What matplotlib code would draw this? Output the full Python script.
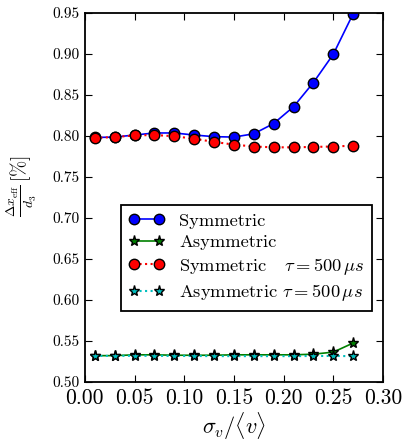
import matplotlib
matplotlib.use('Agg')
import matplotlib.pyplot as plt

plt.rcParams['font.family'] = 'serif'
plt.rcParams['font.serif'] = ['cmr10']
plt.rcParams['mathtext.fontset'] = 'cm'
plt.rcParams['axes.formatter.use_mathtext'] = True
plt.rcParams['axes.unicode_minus'] = False

sigma = [0.01, 0.03, 0.05, 0.07, 0.09, 0.11, 0.13, 0.15, 0.17, 0.19, 0.21, 0.23, 0.25, 0.27]
sym = [0.798, 0.7985, 0.801, 0.8035, 0.8035, 0.801, 0.799, 0.7985, 0.8025, 0.815, 0.8355, 0.865, 0.8995, 0.949]
asym = [0.532, 0.532, 0.533, 0.533, 0.5325, 0.5325, 0.5325, 0.533, 0.533, 0.533, 0.533, 0.5338, 0.5363, 0.5474]
sym_tau = [0.7975, 0.7985, 0.8005, 0.801, 0.7995, 0.7965, 0.7926, 0.7893, 0.787, 0.786, 0.786, 0.7865, 0.787, 0.788]
asym_tau = [0.5316, 0.5318, 0.5318, 0.5318, 0.5316, 0.5316, 0.5314, 0.5314, 0.5314, 0.5314, 0.5314, 0.5316, 0.5316, 0.5314]

fig = plt.figure(figsize=(4.04, 4.42), dpi=100)
ax = fig.add_axes([0.21, 0.136, 0.738, 0.835])

ax.plot(sigma, sym, 'o-', color='b', mec='k', ms=7.5, lw=1.2, label='Symmetric')
ax.plot(sigma, asym, '*-', color='g', mec='k', ms=8, lw=1.2, label='Asymmetric')
ax.plot(sigma, sym_tau, 'o:', color='r', mec='k', ms=7.5, lw=1.5, label=r'Symmetric   $\tau=500\,\mu s$')
ax.plot(sigma, asym_tau, '*:', color='c', mec='k', ms=8, lw=1.5, label=r'Asymmetric $\tau=500\,\mu s$')

ax.set_xlim(0.0, 0.30)
ax.set_ylim(0.50, 0.95)
ax.set_xticks([0.0, 0.05, 0.10, 0.15, 0.20, 0.25, 0.30])
ax.set_xticklabels(['0.00', '0.05', '0.10', '0.15', '0.20', '0.25', '0.30'])
ax.set_yticks([0.50, 0.55, 0.60, 0.65, 0.70, 0.75, 0.80, 0.85, 0.90, 0.95])
ax.set_yticklabels(['0.50', '0.55', '0.60', '0.65', '0.70', '0.75', '0.80', '0.85', '0.90', '0.95'])
ax.tick_params(axis='x', labelsize=15.5, direction='in', top=True, length=5, pad=5)
ax.tick_params(axis='y', labelsize=11, direction='in', right=True, length=5, pad=3.5)
for s in ax.spines.values():
    s.set_linewidth(1.3)

ax.set_xlabel(r'$\sigma_v/\langle v\rangle$', fontsize=16, labelpad=1.5)
ax.set_ylabel(r'$\frac{\Delta x_{\mathrm{eff}}}{d_3}\,[\%]$', fontsize=14)
ax.yaxis.set_label_coords(-0.155, 0.53)

leg = ax.legend(loc='upper left', bbox_to_anchor=(0.121, 0.478), borderaxespad=0,
                numpoints=2, fontsize=13.3, fancybox=False, framealpha=1,
                handlelength=1.95, labelspacing=0.3)
leg.get_frame().set_edgecolor('k')
leg.get_frame().set_linewidth(1.3)

fig.savefig('out.png', dpi=100)
